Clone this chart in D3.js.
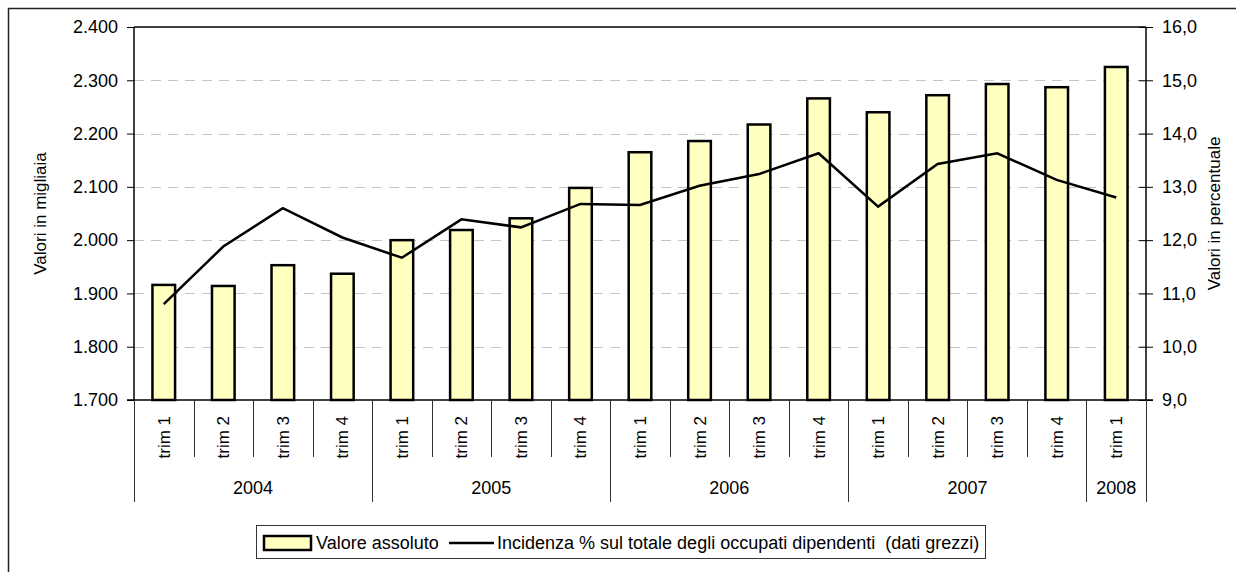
<!DOCTYPE html>
<html>
<head>
<meta charset="utf-8">
<script src="https://cdn.jsdelivr.net/npm/d3@7"></script>
<style>
  body { margin: 0; background: #fff; }
  svg text { font-family: "Liberation Sans", Arial, sans-serif; fill: #000; }
</style>
</head>
<body>
<div id="chart"></div>
<script>
// dati
var trimestri = ["trim 1","trim 2","trim 3","trim 4","trim 1","trim 2","trim 3","trim 4",
                 "trim 1","trim 2","trim 3","trim 4","trim 1","trim 2","trim 3","trim 4","trim 1"];
var anni = ["2004","2005","2006","2007","2008"];
var trimPerAnno = [4, 4, 4, 4, 1];
var valoreAssoluto = [1916, 1914, 1953, 1937, 2000, 2019, 2041, 2098,
                      2165, 2186, 2217, 2266, 2240, 2272, 2293, 2287, 2325];
var incidenza = [10.80, 11.88, 12.60, 12.05, 11.67, 12.39, 12.24, 12.68,
                 12.66, 13.02, 13.24, 13.63, 12.63, 13.43, 13.63, 13.13, 12.80];
var ticksSx = [1700, 1800, 1900, 2000, 2100, 2200, 2300, 2400];
var ticksDx = [9, 10, 11, 12, 13, 14, 15, 16];

var width = 1236, height = 572;
var pLeft = 134, pRight = 1146, pTop = 27, pBottom = 400;

var it = d3.formatLocale({decimal: ",", thousands: ".", grouping: [3], currency: ["€", ""]});

var svg = d3.select("#chart").append("svg")
  .attr("width", width)
  .attr("height", height);

// cornice esterna
svg.append("rect")
  .attr("x", 8.5).attr("y", 8.5)
  .attr("width", 1240).attr("height", 580)
  .attr("fill", "none").attr("stroke", "#222").attr("stroke-width", 1.5);

var x = d3.scaleBand().domain(d3.range(trimestri.length)).range([pLeft, pRight]);
var yL = d3.scaleLinear().domain([1700, 2400]).range([pBottom, pTop]);
var yR = d3.scaleLinear().domain([9, 16]).range([pBottom, pTop]);

// griglia
svg.append("g").selectAll("line")
  .data(ticksSx.slice(1, -1))
  .enter().append("line")
    .attr("x1", pLeft).attr("x2", pRight)
    .attr("y1", d => Math.round(yL(d)) + 0.5).attr("y2", d => Math.round(yL(d)) + 0.5)
    .attr("stroke", "#c4c4c4").attr("stroke-dasharray", "10,7");

// bordo superiore area
svg.append("line")
  .attr("x1", pLeft).attr("x2", pRight).attr("y1", pTop).attr("y2", pTop)
  .attr("stroke", "#000").attr("stroke-width", 1.5);

// barre
var bw = x.bandwidth() * 0.38;
svg.append("g").selectAll("rect")
  .data(valoreAssoluto)
  .enter().append("rect")
    .attr("x", (d, i) => x(i) + x.bandwidth() / 2 - bw / 2)
    .attr("y", d => yL(d))
    .attr("width", bw)
    .attr("height", d => pBottom - yL(d))
    .attr("fill", "#ffffc0")
    .attr("stroke", "#000")
    .attr("stroke-width", 2.5);

// linea
var line = d3.line()
  .x((d, i) => x(i) + x.bandwidth() / 2)
  .y(d => yR(d));
svg.append("path")
  .datum(incidenza)
  .attr("d", line)
  .attr("fill", "none")
  .attr("stroke", "#000")
  .attr("stroke-width", 2.5);

// asse sinistro
var axL = svg.append("g")
  .attr("transform", "translate(" + pLeft + ",0)")
  .call(d3.axisLeft(yL).tickValues(ticksSx).tickSize(7).tickPadding(9).tickFormat(it.format(",")));
axL.select(".domain").attr("stroke", "#000").attr("stroke-width", 1.5).attr("d", "M0," + pTop + "V" + pBottom);
axL.selectAll("text").style("font-size", "18px");

// asse destro
var axR = svg.append("g")
  .attr("transform", "translate(" + pRight + ",0)")
  .call(d3.axisRight(yR).tickValues(ticksDx).tickSize(7).tickPadding(9).tickFormat(it.format(".1f")));
axR.select(".domain").attr("stroke", "#000").attr("stroke-width", 1.5).attr("d", "M0," + pTop + "V" + pBottom);
axR.selectAll(".tick line").attr("x1", -7);
axR.selectAll("text").style("font-size", "18px");

// asse categorie
svg.append("line")
  .attr("x1", pLeft - 7).attr("x2", pRight + 7).attr("y1", pBottom).attr("y2", pBottom)
  .attr("stroke", "#000").attr("stroke-width", 1.5);

var confini = [0];
trimPerAnno.forEach(function(n, i) { confini.push(confini[i] + n); });

svg.append("g").selectAll("line")
  .data(d3.range(trimestri.length + 1))
  .enter().append("line")
    .attr("x1", i => Math.round(i < trimestri.length ? x(i) : pRight) + 0.5)
    .attr("x2", i => Math.round(i < trimestri.length ? x(i) : pRight) + 0.5)
    .attr("y1", pBottom)
    .attr("y2", i => confini.indexOf(i) >= 0 ? 502 : 457)
    .attr("stroke", "#333");

svg.append("g").selectAll("text")
  .data(trimestri)
  .enter().append("text")
    .attr("transform", (d, i) => "translate(" + (x(i) + x.bandwidth() / 2 + 6) + ",416) rotate(-90)")
    .attr("text-anchor", "end")
    .style("font-size", "17px")
    .text(d => d);

svg.append("g").selectAll("text")
  .data(anni)
  .enter().append("text")
    .attr("x", (d, i) => {
      var a = x(confini[i]);
      var b = confini[i + 1] < trimestri.length ? x(confini[i + 1]) : pRight;
      return (a + b) / 2;
    })
    .attr("y", 494)
    .attr("text-anchor", "middle")
    .style("font-size", "18px")
    .text(d => d);

// titoli assi
svg.append("text")
  .attr("transform", "translate(46," + ((pTop + pBottom) / 2) + ") rotate(-90)")
  .attr("text-anchor", "middle")
  .style("font-size", "17px")
  .text("Valori in migliaia");

svg.append("text")
  .attr("transform", "translate(1220," + ((pTop + pBottom) / 2) + ") rotate(-90)")
  .attr("text-anchor", "middle")
  .style("font-size", "17px")
  .text("Valori in percentuale");

// legenda
var leg = svg.append("g");
leg.append("rect")
  .attr("x", 256.5).attr("y", 525.5).attr("width", 729).attr("height", 33)
  .attr("fill", "#fff").attr("stroke", "#333");
leg.append("rect")
  .attr("x", 264).attr("y", 536).attr("width", 47).attr("height", 14)
  .attr("fill", "#ffffc0").attr("stroke", "#000").attr("stroke-width", 2.5);
leg.append("text")
  .attr("x", 316).attr("y", 549)
  .style("font-size", "18px")
  .text("Valore assoluto");
leg.append("line")
  .attr("x1", 449).attr("x2", 494).attr("y1", 543).attr("y2", 543)
  .attr("stroke", "#000").attr("stroke-width", 2.5);
leg.append("text")
  .attr("x", 497).attr("y", 549)
  .style("font-size", "18px")
  .style("white-space", "pre")
  .text("Incidenza % sul totale degli occupati dipendenti  (dati grezzi)");
</script>
</body>
</html>
